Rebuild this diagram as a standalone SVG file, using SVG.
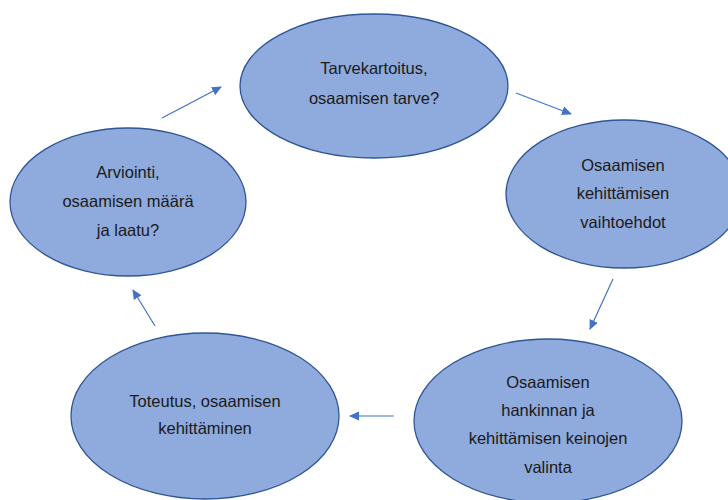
<svg xmlns="http://www.w3.org/2000/svg" width="728" height="500" viewBox="0 0 728 500">
<style>
.node ellipse{fill:#8FAADC;stroke:#2F5597;stroke-width:1.3}
.node text{font-family:"Liberation Sans",Arial,sans-serif;font-size:16.5px;fill:#1a1a1a;text-anchor:middle}
.conn line{stroke:#4472C4;stroke-width:1.2;marker-end:url(#ah)}
</style>
<defs>
<marker id="ah" viewBox="0 0 10 10" refX="9" refY="5" markerWidth="10" markerHeight="10" markerUnits="userSpaceOnUse" orient="auto">
<path d="M0,0.5 L10,5 L0,9.5 z" fill="#4472C4"/>
</marker>
</defs>
<rect width="728" height="500" fill="#fff"/>
<g id="n1" class="node">
<ellipse cx="374" cy="86" rx="134" ry="72"/>
<text x="374" y="74">Tarvekartoitus,</text>
<text x="374" y="104">osaamisen tarve?</text>
</g>
<g id="n2" class="node">
<ellipse cx="624" cy="194" rx="118" ry="74"/>
<text x="623" y="171">Osaamisen</text>
<text x="623" y="199">kehittämisen</text>
<text x="623" y="228">vaihtoehdot</text>
</g>
<g id="n3" class="node">
<ellipse cx="548" cy="421" rx="134" ry="82"/>
<text x="548" y="388">Osaamisen</text>
<text x="548" y="416">hankinnan ja</text>
<text x="548" y="444">kehittämisen keinojen</text>
<text x="548" y="473">valinta</text>
</g>
<g id="n4" class="node">
<ellipse cx="205" cy="416" rx="134" ry="83"/>
<text x="205" y="407">Toteutus, osaamisen</text>
<text x="205" y="434">kehittäminen</text>
</g>
<g id="n5" class="node">
<ellipse cx="128" cy="202" rx="118" ry="74"/>
<text x="128" y="178">Arviointi,</text>
<text x="128" y="207">osaamisen määrä</text>
<text x="128" y="236">ja laatu?</text>
</g>
<g id="connectors" class="conn">
<line x1="162" y1="118" x2="221" y2="87"/>
<line x1="516" y1="93" x2="571" y2="114"/>
<line x1="613" y1="279" x2="590" y2="329"/>
<line x1="394" y1="416" x2="350" y2="416"/>
<line x1="155" y1="326" x2="133" y2="290"/>
</g>
</svg>
